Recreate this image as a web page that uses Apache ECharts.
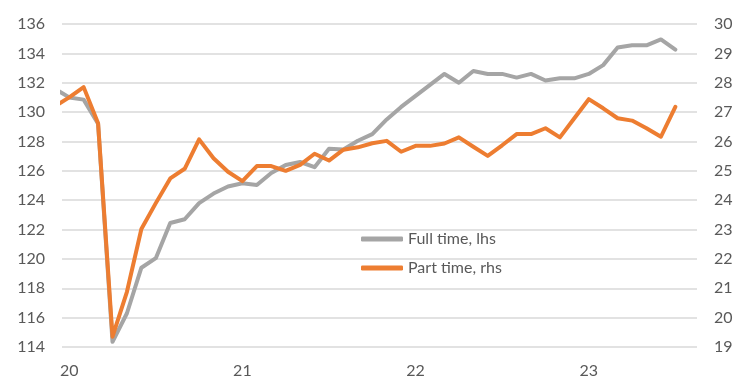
<!DOCTYPE html>
<html>
<head>
<meta charset="utf-8">
<script src="https://cdn.jsdelivr.net/npm/echarts@6/dist/echarts.min.js"></script>
<style>
html,body{margin:0;padding:0;background:#fff;}
#chart{width:748px;height:391px;}
</style>
</head>
<body>
<div id="chart"></div>
<script>
// Monthly observations, Dec 2019 .. Jul 2023
const months = [
  "2019-12",
  "2020-01","2020-02","2020-03","2020-04","2020-05","2020-06","2020-07","2020-08","2020-09","2020-10","2020-11","2020-12",
  "2021-01","2021-02","2021-03","2021-04","2021-05","2021-06","2021-07","2021-08","2021-09","2021-10","2021-11","2021-12",
  "2022-01","2022-02","2022-03","2022-04","2022-05","2022-06","2022-07","2022-08","2022-09","2022-10","2022-11","2022-12",
  "2023-01","2023-02","2023-03","2023-04","2023-05","2023-06","2023-07"
];
// Full time, left axis
const fullTime = [
  131.6,
  131.0,130.85,129.2,114.35,116.3,119.4,120.05,122.45,122.7,123.8,124.45,124.93,
  125.15,125.03,125.85,126.4,126.6,126.25,127.5,127.45,128.05,128.5,129.5,130.35,
  131.1,131.85,132.6,132.0,132.8,132.6,132.6,132.35,132.6,132.15,132.3,132.3,
  132.6,133.2,134.4,134.55,134.55,134.95,134.25
];
// Part time, right axis
const partTime = [
  27.2,
  27.5,27.85,26.62,19.35,20.88,23.02,23.9,24.74,25.07,26.07,25.43,24.97,
  24.65,25.16,25.16,25.0,25.2,25.58,25.35,25.72,25.8,25.94,26.02,25.65,
  25.85,25.85,25.93,26.14,25.82,25.51,25.87,26.25,26.25,26.45,26.14,26.79,
  27.44,27.13,26.79,26.71,26.45,26.16,27.18
];
const yearLabels = ["20","21","22","23"];
const yearTickMonths = ["2020-01","2021-01","2022-01","2023-01"];
const seriesNames = ["Full time, lhs","Part time, rhs"];

function monthIndex(m){
  const p = m.split("-");
  return (parseInt(p[0],10) - 2020) * 12 + (parseInt(p[1],10) - 1);
}
const fullData = months.map((m,i)=>[monthIndex(m), fullTime[i]]);
const partData = months.map((m,i)=>[monthIndex(m), partTime[i]]);
const tickIdx = yearTickMonths.map(monthIndex);

const FONT = "Lato";
const TXT = "#595959";
const chart = echarts.init(document.getElementById("chart"), null, {renderer:"canvas"});
chart.setOption({
  animation:false,
  backgroundColor:"#ffffff",
  textStyle:{fontFamily:FONT},
  grid:{left:62,right:51,top:24,bottom:44,containLabel:false},
  legend:{
    orient:"vertical",
    left:356,
    top:226,
    itemWidth:42,
    itemHeight:5,
    itemGap:13,
    icon:"roundRect",
    textStyle:{fontFamily:FONT,fontSize:16,color:TXT},
    data:seriesNames
  },
  xAxis:{
    type:"value",
    min:-0.5,
    max:43.5,
    axisLine:{show:false},
    axisTick:{show:false},
    splitLine:{show:false},
    axisLabel:{
      customValues:tickIdx,
      formatter:function(v){ const k = tickIdx.indexOf(v); return k>=0 ? yearLabels[k] : ""; },
      color:TXT,fontFamily:FONT,fontSize:16,margin:16
    }
  },
  yAxis:[
    {
      type:"value",min:114,max:136,interval:2,
      axisLine:{show:false},axisTick:{show:false},
      axisLabel:{color:TXT,fontFamily:FONT,fontSize:16,margin:17},
      splitLine:{lineStyle:{color:"#d9d9d9",width:1.5}}
    },
    {
      type:"value",min:19,max:30,interval:1,position:"right",
      axisLine:{show:false},axisTick:{show:false},
      axisLabel:{color:TXT,fontFamily:FONT,fontSize:16,margin:17},
      splitLine:{show:false}
    }
  ],
  series:[
    {
      name:seriesNames[0],type:"line",yAxisIndex:0,data:fullData,
      symbol:"none",clip:true,
      itemStyle:{color:"#a5a5a5"},
      lineStyle:{color:"#a5a5a5",width:4,join:"round",cap:"round"}
    },
    {
      name:seriesNames[1],type:"line",yAxisIndex:1,data:partData,
      symbol:"none",clip:true,
      itemStyle:{color:"#ed7d31"},
      lineStyle:{color:"#ed7d31",width:4,join:"round",cap:"round"}
    }
  ]
});
</script>
</body>
</html>
